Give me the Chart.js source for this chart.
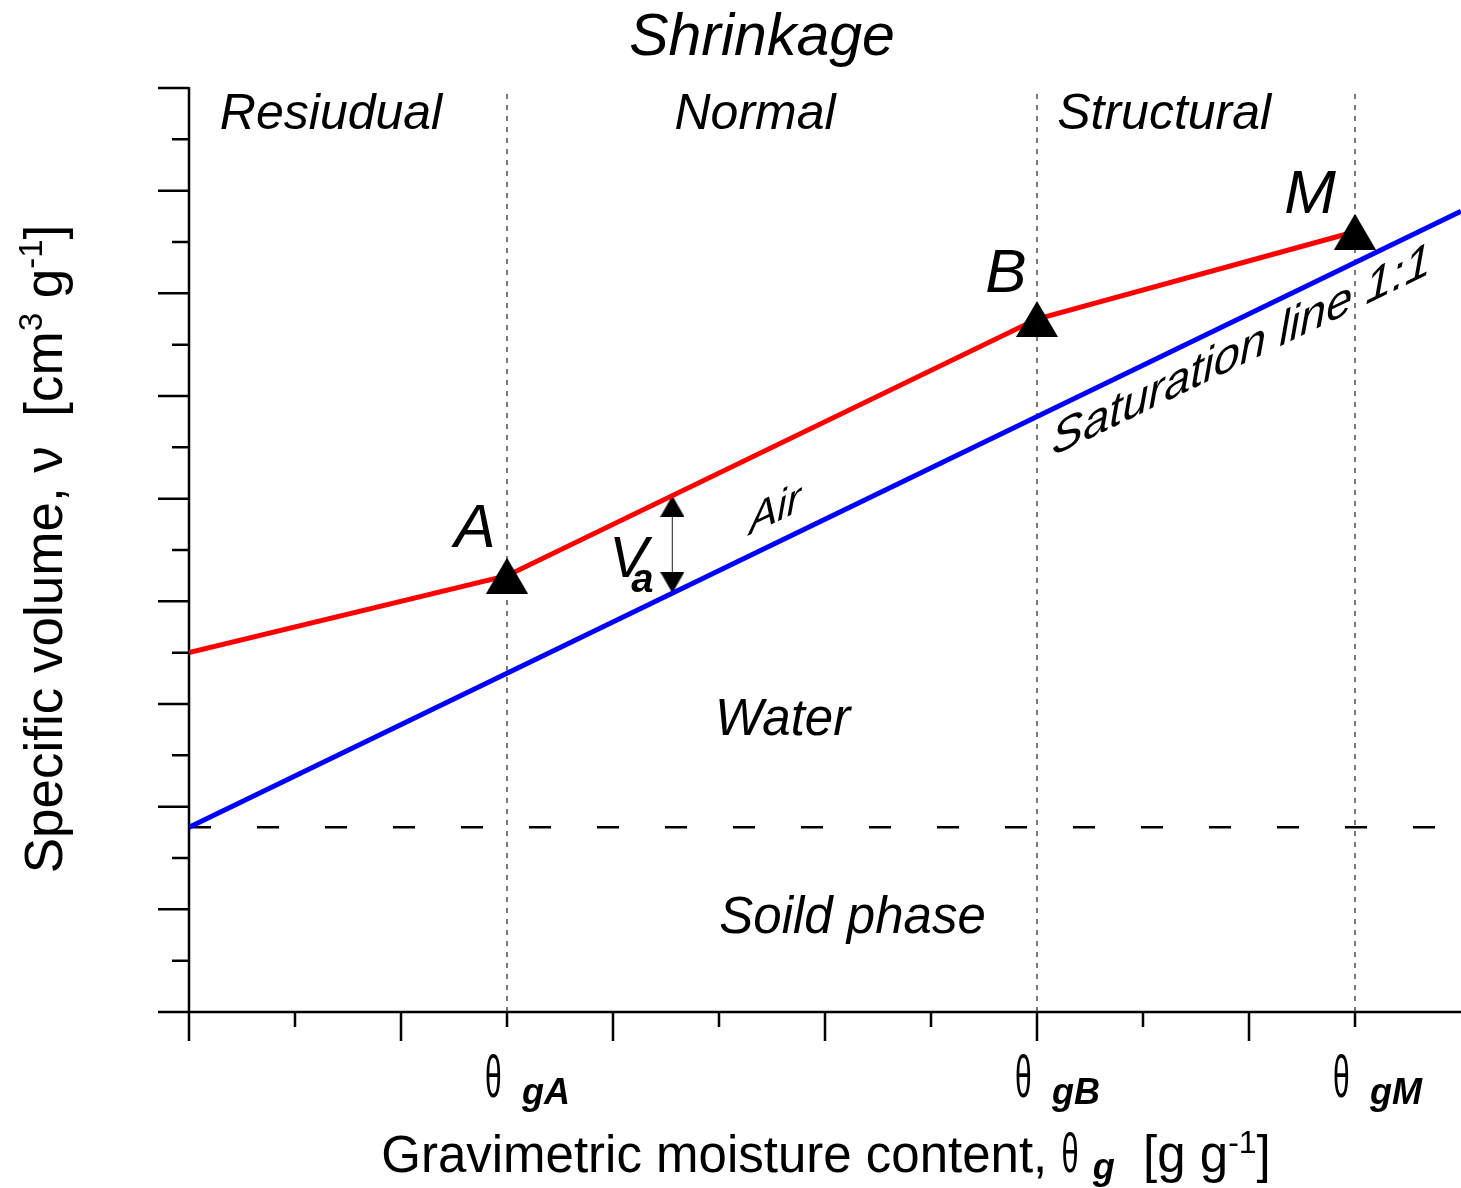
<!DOCTYPE html>
<html>
<head>
<meta charset="utf-8">
<script src="https://cdn.jsdelivr.net/npm/chart.js@4/dist/chart.umd.min.js"></script>
<style>
  html, body { margin: 0; padding: 0; background: #fff; }
  canvas { display: block; }
</style>
</head>
<body>
<canvas id="chart" width="1461" height="1188"></canvas>
<script>
// values (x: moisture, y: specific volume, arbitrary units)
const shrinkX = [0, 1.5, 4, 5.5];
const shrinkV = [3.5, 4.25, 6.75, 7.6];
const satX = [0, 6];
const satV = [1.8, 7.8];
const solidV = 1.8;
const limitX = [1.5, 4, 5.5];
const limitSub = ['gA', 'gB', 'gM'];
const pointNames = ['', 'A', 'B', 'M'];
const zoneNames = ['Resiudual', 'Normal', 'Structural'];
const vaX = 2.28;
const vaV = [5.03, 4.08];
const xTicks = [0, 0.5, 1, 1.5, 2, 2.5, 3, 3.5, 4, 4.5, 5, 5.5];
const yTicks = [0, 0.5, 1, 1.5, 2, 2.5, 3, 3.5, 4, 4.5, 5, 5.5, 6, 6.5, 7, 7.5, 8, 8.5, 9];

const FONT = '"Liberation Sans", Arial, sans-serif';

// little canvases used as point styles
const makeTriangle = (w, h, dir) => {
  const c = document.createElement('canvas');
  c.width = w;
  c.height = dir === 'mark' ? h : h * 2;
  const g = c.getContext('2d');
  g.fillStyle = '#000';
  g.beginPath();
  if (dir === 'mark') {
    g.moveTo(w / 2, 0); g.lineTo(w, h); g.lineTo(0, h);
  } else if (dir === 'up') {
    g.moveTo(w / 2, h); g.lineTo(w, h * 2); g.lineTo(0, h * 2);
  } else {
    g.moveTo(w / 2, h); g.lineTo(w, 0); g.lineTo(0, 0);
  }
  g.closePath();
  g.fill();
  return c;
};
const marker = makeTriangle(42, 36, 'mark');
const headUp = makeTriangle(24, 21, 'up');
const headDown = makeTriangle(24, 21, 'down');

const pts = (xs, ys) => xs.map((x, i) => ({ x: x, y: ys[i] }));

// draw rich text: parts = [text, font, dy, xScale]
const drawRich = (ctx, parts, x, y, align) => {
  let w = 0;
  parts.forEach(p => { ctx.font = p[1]; w += ctx.measureText(p[0]).width * (p[3] || 1); });
  let cx = align === 'center' ? x - w / 2 : x;
  parts.forEach(p => {
    ctx.font = p[1];
    const sx = p[3] || 1;
    ctx.save();
    ctx.translate(cx, y + (p[2] || 0));
    ctx.scale(sx, 1);
    ctx.fillText(p[0], 0, 0);
    ctx.restore();
    cx += ctx.measureText(p[0]).width * sx;
  });
};

const axesPlugin = {
  id: 'axes',
  beforeDatasetsDraw(chart) {
    const ctx = chart.ctx;
    const xs = chart.scales.x, ys = chart.scales.y;
    const x0 = xs.getPixelForValue(0);
    const yb = ys.getPixelForValue(0);
    const yt = ys.getPixelForValue(9);
    ctx.save();
    ctx.strokeStyle = '#000';
    ctx.lineWidth = 2.5;
    ctx.beginPath();
    ctx.moveTo(x0, yt - 1); ctx.lineTo(x0, yb + 29);
    ctx.moveTo(x0 - 31, yb); ctx.lineTo(chart.width, yb);
    yTicks.forEach(v => {
      const py = ys.getPixelForValue(v);
      const len = Number.isInteger(v) ? 31 : 17;
      ctx.moveTo(x0 - len, py); ctx.lineTo(x0, py);
    });
    xTicks.forEach(v => {
      const px = xs.getPixelForValue(v);
      const len = Number.isInteger(v) ? 29 : 15;
      ctx.moveTo(px, yb); ctx.lineTo(px, yb + len);
    });
    ctx.stroke();
    ctx.restore();
  }
};

const textPlugin = {
  id: 'texts',
  afterDraw(chart) {
    const ctx = chart.ctx;
    const xs = chart.scales.x, ys = chart.scales.y;
    const X = v => xs.getPixelForValue(v);
    const Y = v => ys.getPixelForValue(v);
    ctx.save();
    ctx.fillStyle = '#000';
    ctx.textBaseline = 'alphabetic';
    ctx.textAlign = 'left';

    // title
    drawRich(ctx, [['Shrinkage', 'italic 59px ' + FONT]], 762, 55, 'center');

    // zone names
    const zoneX = [0.67, 2.67, 4.6];
    zoneNames.forEach((z, i) => drawRich(ctx, [[z, 'italic 50px ' + FONT]], X(zoneX[i]), Y(8.6), 'center'));

    // point names A, B, M
    const off = [null, [-32, -29], [-31, -27], [-45, -19]];
    pointNames.forEach((n, i) => {
      if (!n) return;
      drawRich(ctx, [[n, 'italic 62px ' + FONT]], X(shrinkX[i]) + off[i][0], Y(shrinkV[i]) + off[i][1], 'center');
    });

    // Va
    drawRich(ctx, [['V', 'italic 58px ' + FONT]], X(vaX) - 63, Y(4.237), 'left');
    drawRich(ctx, [['a', 'bold italic 40px ' + FONT]], X(vaX) - 41, Y(4.237) + 15, 'left');

    // sheared labels along the saturation line
    const slope = (Y(satV[0]) - Y(satV[1])) / (X(satX[1]) - X(satX[0]));
    const shear = (txt, font, x, y) => {
      ctx.save();
      ctx.transform(1, -slope, 0, 1, x, y);
      ctx.font = font;
      ctx.fillText(txt, 0, 0);
      ctx.restore();
    };
    shear('Air', 'italic 42px ' + FONT, X(2.643), Y(4.646));
    shear('Saturation line 1:1', 'italic 47px ' + FONT, X(4.07), Y(5.41));

    drawRich(ctx, [['Water', 'italic 51px ' + FONT]], X(2.8), Y(2.70), 'center');
    drawRich(ctx, [['Soild phase', 'italic 51px ' + FONT]], X(3.13), Y(0.77), 'center');

    // x tick labels
    limitX.forEach((v, i) => {
      const px = X(v);
      drawRich(ctx, [['θ', '60px ' + FONT, 0, 0.5]], px - 22, 1097, 'left');
      drawRich(ctx, [[limitSub[i], 'bold italic 36px ' + FONT]], px + 15, 1104, 'left');
    });

    // x axis title
    drawRich(ctx, [
      ['Gravimetric moisture content, ', '51px ' + FONT],
      ['θ', '56px ' + FONT, 0, 0.55],
      [' ', '51px ' + FONT],
      ['g', 'bold italic 36px ' + FONT, 7],
      ['  [g g', '51px ' + FONT],
      ['-1', '32px ' + FONT, -19],
      [']', '51px ' + FONT]
    ], 826, 1172, 'center');

    // y axis title
    ctx.translate(62, 549);
    ctx.rotate(-Math.PI / 2);
    drawRich(ctx, [
      ['Specific volume, ν  [cm', '53px ' + FONT],
      ['3', '33px ' + FONT, -20],
      [' g', '53px ' + FONT],
      ['-1', '33px ' + FONT, -20],
      [']', '53px ' + FONT]
    ], 0, 0, 'center');
    ctx.restore();
  }
};

const datasets = [
  {
    data: pts(shrinkX, shrinkV),
    showLine: true,
    borderColor: '#ff0000',
    borderWidth: 5,
    pointStyle: [marker, marker, marker, marker],
    pointRadius: [0, 10, 10, 10]
  },
  {
    data: pts(satX, satV),
    showLine: true,
    borderColor: '#0000ff',
    borderWidth: 5,
    pointRadius: 0
  },
  {
    data: pts([vaX, vaX], vaV),
    showLine: true,
    borderColor: '#444',
    borderWidth: 1.2,
    pointStyle: [headUp, headDown],
    pointRadius: 10
  },
  {
    data: pts(satX, [solidV, solidV]),
    showLine: true,
    borderColor: '#000',
    borderWidth: 2.5,
    borderDash: [22, 46],
    pointRadius: 0
  }
];
limitX.forEach(x => {
  datasets.push({
    data: pts([x, x], [0, 9]),
    showLine: true,
    borderColor: '#222',
    borderWidth: 1.2,
    borderDash: [5, 6],
    pointRadius: 0
  });
});

const ctx = document.getElementById('chart').getContext('2d');
new Chart(ctx, {
  type: 'scatter',
  data: { datasets: datasets },
  options: {
    responsive: false,
    animation: false,
    layout: { autoPadding: false, padding: { left: 189, top: 88, right: 0, bottom: 176 } },
    scales: {
      x: { type: 'linear', min: 0, max: 6, display: false },
      y: { type: 'linear', min: 0, max: 9, display: false }
    },
    plugins: {
      legend: { display: false },
      tooltip: { enabled: false }
    }
  },
  plugins: [axesPlugin, textPlugin]
});
</script>
</body>
</html>
